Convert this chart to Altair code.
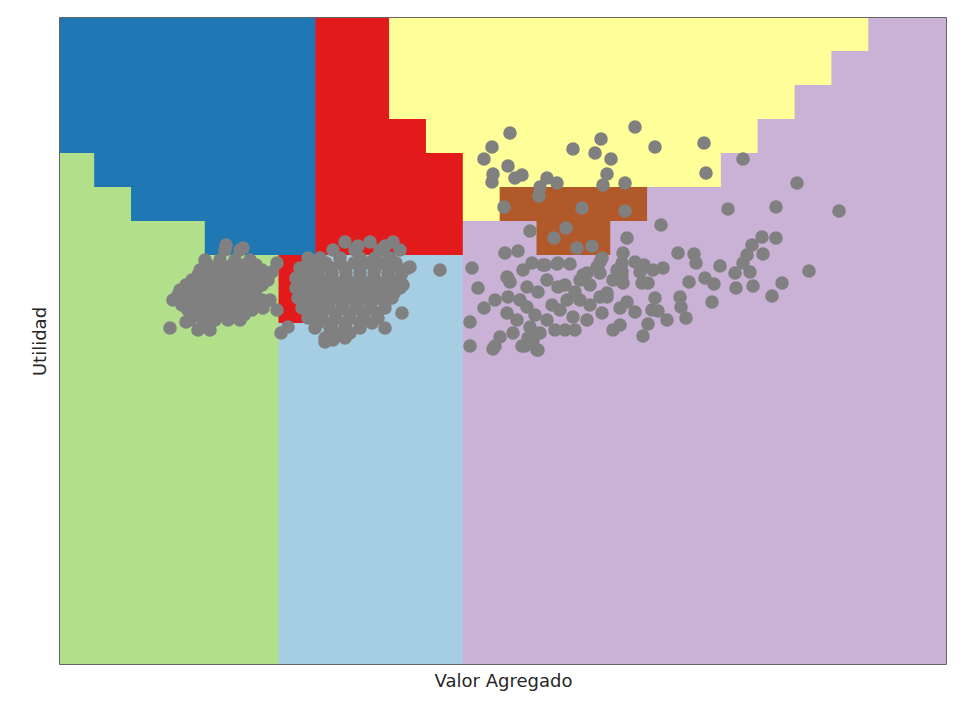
import altair as alt
import pandas as pd

# Decision-region mesh: class of each cell, row 0 at the top, 25 columns
CLASSES = ["B", "G", "R", "Y", "L", "P", "O"]
CLASS_COLORS = ["#1f78b4", "#b2df8a", "#e31a1c", "#ffff99", "#a6cee3", "#cab2d6", "#b15928"]
MESH_ROWS = [
    "BBBBBBBRRYYYYYYYYYYYYYPPP",
    "BBBBBBBRRYYYYYYYYYYYYPPPP",
    "BBBBBBBRRYYYYYYYYYYYPPPPP",
    "BBBBBBBRRRYYYYYYYYYPPPPPP",
    "GBBBBBBRRRRYYYYYYYPPPPPPP",
    "GGBBBBBRRRRYOOOOPPPPPPPPP",
    "GGGGBBBRRRRPPOOPPPPPPPPPP",
    "GGGGGGRLLLLPPPPPPPPPPPPPP",
    "GGGGGGRLLLLPPPPPPPPPPPPPP",
    "GGGGGGLLLLLPPPPPPPPPPPPPP",
    "GGGGGGLLLLLPPPPPPPPPPPPPP",
    "GGGGGGLLLLLPPPPPPPPPPPPPP",
    "GGGGGGLLLLLPPPPPPPPPPPPPP",
    "GGGGGGLLLLLPPPPPPPPPPPPPP",
    "GGGGGGLLLLLPPPPPPPPPPPPPP",
    "GGGGGGLLLLLPPPPPPPPPPPPPP",
    "GGGGGGLLLLLPPPPPPPPPPPPPP",
    "GGGGGGLLLLLPPPPPPPPPPPPPP",
    "GGGGGGLLLLLPPPPPPPPPPPPPP",
]
MESH_X0 = -0.19   # left edge of first mesh column
MESH_XSTEP = 3.686
MESH_YTOP = 64.63  # top edge of first mesh row
MESH_YSTEP = 3.4
X_DOMAIN = [0, 88.6]
Y_DOMAIN = [0, 64.6]

# Observations (Valor Agregado, Utilidad)
valor = [
    # left cluster
    16.5, 18.0,
    14.5, 16.0, 17.5, 19.0,
    14.0, 15.2, 16.5, 17.8, 19.0, 20.2,
    13.2, 14.5, 15.8, 17.0, 18.3, 19.6, 20.8,
    12.0, 13.2, 14.5, 15.8, 17.0, 18.3, 19.6,
    11.3, 12.5, 13.8, 15.0, 16.2, 17.5, 18.8, 20.2,
    12.8, 14.0, 15.2, 16.5, 17.8, 19.2,
    13.0, 14.3, 15.5, 16.8, 18.0,
    13.8, 15.0,
    11.0, 12.6, 16.6, 18.3, 21.0, 20.3, 21.7, 21.2, 21.7, 22.1, 22.8,
    14.8, 16.0, 17.2, 18.4, 19.6,
    13.8, 15.1, 16.4, 17.6, 18.9, 20.1,
    12.6, 13.8, 15.1, 16.4, 17.6, 18.9, 20.2,
    11.8, 13.0, 14.2, 15.4, 16.6, 17.9, 19.2,
    12.2, 13.4, 14.6, 15.8, 17.1, 18.4, 19.6,
    13.6, 14.8, 16.0, 17.2, 18.4,
    # middle cluster
    28.5, 31.0, 33.3,
    27.3, 29.5, 32.0, 34.0,
    24.8, 26.0, 28.0, 30.0, 31.5, 33.0,
    24.0, 25.5, 27.0, 28.5, 30.0, 31.5, 33.0, 34.8,
    23.6, 24.8, 26.0, 27.2, 28.6, 30.0, 31.4, 32.8, 34.0,
    23.6, 24.8, 26.0, 27.2, 28.6, 30.0, 31.2, 32.6, 34.0,
    23.8, 25.0, 26.2, 27.6, 29.0, 30.4, 31.8, 33.2,
    24.2, 25.4, 26.8, 28.2, 29.6, 31.0, 32.5,
    24.8, 26.2, 27.6, 29.0, 30.4, 31.8,
    25.5, 27.0, 28.5, 30.0, 32.5,
    26.5, 28.5,
    35.0, 34.2, 34.3, 38.0, 26.5, 27.3,
    29.8, 32.5,
    25.2, 26.6, 28.0, 29.4, 30.8, 32.2, 33.6,
    24.4, 25.8, 27.2, 28.6, 30.0, 31.4, 32.8, 34.2,
    24.2, 25.4, 26.6, 27.9, 29.3, 30.7, 32.1, 33.4,
    24.2, 25.4, 26.6, 27.9, 29.3, 30.7, 32.0, 33.4,
    24.4, 25.6, 26.9, 28.3, 29.7, 31.1, 32.5,
    25.0, 26.2, 27.5, 28.9, 30.3, 31.7,
    25.8, 27.2, 28.6, 30.0, 31.2,
    27.5, 29.0,
    # upper right (yellow / brown)
    45.0, 43.2, 42.4, 44.8, 43.3, 43.2, 45.5, 46.2, 48.7, 48.0, 49.7, 47.9, 44.4,
    51.3, 54.1, 53.5, 55.1, 54.7, 54.3, 56.5, 57.5, 59.5, 64.4, 64.6, 68.3, 73.7,
    52.2, 56.5, 50.6, 49.4, 47.0, 51.7, 53.2, 60.1,
    # right cluster
    66.8, 71.6, 77.9, 56.7, 56.3, 44.5, 45.8, 41.2, 41.8, 42.4, 41.0, 41.0, 43.3, 43.5,
    61.8, 63.4, 63.6, 66.0, 70.2, 71.6, 69.2, 68.7, 70.3, 68.3, 67.5, 69.0, 67.6, 69.3,
    72.2, 71.2, 74.9, 65.2, 64.5, 65.4, 62.9, 62.6, 62.0, 62.1, 60.7, 59.8, 59.5, 58.8,
    58.3, 60.3, 59.3, 58.4, 57.5, 58.0, 58.8, 56.3, 55.7, 56.2, 54.0, 54.0, 52.7, 52.0,
    54.7, 54.0, 56.7, 57.5, 56.0, 54.2, 52.7, 56.0, 55.3, 50.5, 47.7, 46.2, 44.0, 44.7,
    44.8, 45.0, 44.7, 46.3, 47.2, 48.3, 49.7, 51.0, 52.3, 48.7, 49.8, 50.7, 52.0, 50.0,
    51.3, 46.7, 46.0, 46.7, 45.7, 47.0, 48.0, 48.7, 45.3, 47.3, 53.7, 55.3, 54.7,
    47.8, 49.2, 50.5, 51.5, 53.0, 47.5, 49.5, 51.5, 46.8, 53.0,
    44.8, 48.5, 49.8, 54.2, 56.2, 56.2, 58.2, 59.2, 43.5, 46.5, 47.8,
]
utilidad = [
    # left cluster
    41.4, 41.4,
    40.4, 40.4, 40.4, 40.4,
    39.4, 39.4, 39.4, 39.4, 39.4, 39.4,
    38.4, 38.4, 38.4, 38.4, 38.4, 38.4, 38.4,
    37.4, 37.4, 37.4, 37.4, 37.4, 37.4, 37.4,
    36.4, 36.4, 36.4, 36.4, 36.4, 36.4, 36.4, 36.4,
    35.4, 35.4, 35.4, 35.4, 35.4, 35.4,
    34.4, 34.4, 34.4, 34.4, 34.4,
    33.4, 33.4,
    33.6, 34.2, 41.9, 41.6, 36.4, 35.6, 40.1, 39.2, 35.4, 33.1, 33.7,
    39.9, 39.9, 39.9, 39.9, 39.9,
    38.9, 38.9, 38.9, 38.9, 38.9, 38.9,
    37.9, 37.9, 37.9, 37.9, 37.9, 37.9, 37.9,
    36.9, 36.9, 36.9, 36.9, 36.9, 36.9, 36.9,
    35.9, 35.9, 35.9, 35.9, 35.9, 35.9, 35.9,
    34.9, 34.9, 34.9, 34.9, 34.9,
    # middle cluster
    42.2, 42.2, 42.2,
    41.4, 41.4, 41.4, 41.4,
    40.6, 40.6, 40.6, 40.6, 40.6, 40.6,
    39.6, 39.6, 39.6, 39.6, 39.6, 39.6, 39.6, 39.6,
    38.6, 38.6, 38.6, 38.6, 38.6, 38.6, 38.6, 38.6, 38.6,
    37.6, 37.6, 37.6, 37.6, 37.6, 37.6, 37.6, 37.6, 37.6,
    36.6, 36.6, 36.6, 36.6, 36.6, 36.6, 36.6, 36.6,
    35.6, 35.6, 35.6, 35.6, 35.6, 35.6, 35.6,
    34.6, 34.6, 34.6, 34.6, 34.6, 34.6,
    33.6, 33.6, 33.6, 33.6, 33.6,
    32.6, 32.6,
    39.7, 35.1, 37.9, 39.4, 32.2, 32.4,
    41.8, 41.8,
    40.1, 40.1, 40.1, 40.1, 40.1, 40.1, 40.1,
    39.1, 39.1, 39.1, 39.1, 39.1, 39.1, 39.1, 39.1,
    38.1, 38.1, 38.1, 38.1, 38.1, 38.1, 38.1, 38.1,
    37.1, 37.1, 37.1, 37.1, 37.1, 37.1, 37.1, 37.1,
    36.1, 36.1, 36.1, 36.1, 36.1, 36.1, 36.1,
    35.1, 35.1, 35.1, 35.1, 35.1, 35.1,
    34.1, 34.1, 34.1, 34.1, 34.1,
    33.1, 33.1,
    # upper right (yellow / brown)
    53.1, 51.7, 50.5, 49.8, 49.0, 48.2, 48.6, 48.9, 48.6, 47.7, 48.1, 46.8, 45.7,
    51.5, 52.5, 51.1, 50.5, 49.0, 47.9, 48.1, 53.7, 51.7, 52.1, 49.1, 50.5, 48.1,
    45.6, 45.3, 43.6, 42.6, 43.3, 41.6, 41.8, 43.9,
    # right cluster
    45.5, 45.7, 45.3, 42.6, 41.1, 41.1, 41.3, 39.6, 37.6, 35.6, 34.2, 31.8, 31.5, 36.4,
    41.1, 41.0, 40.1, 39.8, 42.7, 42.6, 41.9, 40.9, 41.0, 40.1, 39.1, 39.2, 37.6, 37.8,
    38.1, 36.8, 39.3, 36.2, 38.6, 38.0, 38.2, 34.6, 36.7, 35.7, 34.4, 35.3, 36.6, 34.0,
    32.8, 39.6, 39.4, 39.9, 40.2, 39.2, 38.1, 38.1, 39.4, 40.1, 40.2, 39.1, 39.1, 38.4,
    36.7, 36.7, 36.2, 35.2, 35.6, 35.1, 34.4, 33.9, 33.4, 33.4, 31.4, 31.8, 32.7, 35.1,
    36.7, 38.2, 38.7, 39.4, 40.1, 39.9, 40.0, 40.0, 38.9, 38.4, 37.7, 36.4, 36.4, 35.4,
    34.7, 37.7, 36.4, 35.7, 34.4, 33.7, 33.1, 34.4, 33.1, 32.4, 39.7, 38.4, 37.1,
    37.2, 35.9, 37.9, 37.2, 35.9, 34.9, 33.4, 33.4, 32.6, 37.9,
    38.6, 39.9, 40.1, 40.6, 39.3, 38.8, 38.1, 35.4, 31.8, 31.8, 31.4,
]

# Merge horizontal runs of equal class in each mesh row into one rectangle
mesh_records = []
for r, row in enumerate(MESH_ROWS):
    start = 0
    for c in range(1, len(row) + 1):
        if c == len(row) or row[c] != row[start]:
            mesh_records.append({
                "x": MESH_X0 + start * MESH_XSTEP,
                "x2": MESH_X0 + c * MESH_XSTEP,
                "y": MESH_YTOP - (r + 1) * MESH_YSTEP,
                "y2": MESH_YTOP - r * MESH_YSTEP,
                "cls": row[start],
            })
            start = c
mesh_df = pd.DataFrame(mesh_records)
pts_df = pd.DataFrame({"valor": valor, "utilidad": utilidad})

xscale = alt.Scale(domain=X_DOMAIN, nice=False, zero=False)
yscale = alt.Scale(domain=Y_DOMAIN, nice=False, zero=False)
cscale = alt.Scale(domain=CLASSES, range=CLASS_COLORS)

title_font = dict(titleFont="DejaVu Sans", titleFontSize=18, titleFontWeight="normal", titleColor="#262626")

mesh = alt.Chart(mesh_df).mark_rect(clip=True, strokeWidth=1.5, strokeOpacity=1).encode(
    x=alt.X("x:Q", scale=xscale,
            axis=alt.Axis(title="Valor Agregado", labels=False, ticks=False, grid=False,
                          domain=False, titlePadding=8, **title_font)),
    x2="x2:Q",
    y=alt.Y("y:Q", scale=yscale,
            axis=alt.Axis(title="Utilidad", labels=False, ticks=False, grid=False,
                          domain=False, titlePadding=11, **title_font)),
    y2="y2:Q",
    color=alt.Color("cls:N", scale=cscale, legend=None),
    stroke=alt.Stroke("cls:N", scale=cscale, legend=None),
)

points = alt.Chart(pts_df).mark_circle(size=185, color="#808080", opacity=1).encode(
    x=alt.X("valor:Q", scale=xscale),
    y=alt.Y("utilidad:Q", scale=yscale),
)

chart = alt.layer(mesh, points).properties(
    width=886, height=646,
    autosize=alt.AutoSizeParams(type="none"),
    padding={"left": 52, "top": 10, "right": 15, "bottom": 45},
).configure_view(stroke="#333333", strokeWidth=1.5)

chart.save("out.html", embed_options={"renderer": "svg", "actions": False})
